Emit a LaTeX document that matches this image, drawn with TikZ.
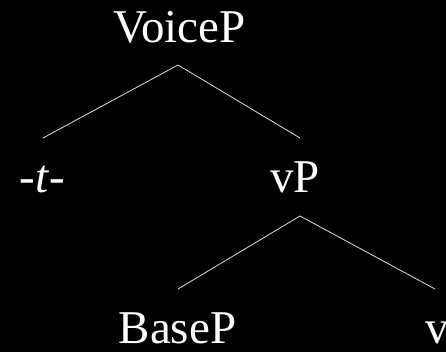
\documentclass[tikz,border=0pt]{standalone}
\usepackage{fontspec}
\setmainfont{Liberation Serif}
\usetikzlibrary{calc}
\definecolor{branch}{RGB}{215,222,235}
\tikzset{
  label/.style={text=white, inner sep=0pt, anchor=base,
    font=\fontsize{47}{50}\selectfont},
  edge/.style={draw=branch, line width=0.8pt}
}
\begin{document}
\begin{tikzpicture}[x=1pt, y=-1pt]
  \fill[black] (0,0) rectangle (446,352);
  \useasboundingbox (0,0) rectangle (446,352);

  % tree labels
  \node[label] (voice) at (179.5,43) {VoiceP};
  \node[label] (tt)    at (42.5,193) {-\textit{t}-};
  \node[label] (vp)    at (295,193)  {vP};
  \node[label] (base)  at (177.5,343) {BaseP};
  \node[label, anchor=base west] (v) at (425,343) {v};

  % branches
  \draw[edge] ($(tt.base)+(0.5,-55)$) -- ($(voice.base)+(-1.5,22)$)
              -- ($(vp.base)+(5,-55)$);
  \draw[edge] ($(base.base)+(0.5,-54)$) -- ($(vp.base)+(5,23)$)
              -- ($(v.base west)+(10,-54)$);
\end{tikzpicture}
\end{document}
